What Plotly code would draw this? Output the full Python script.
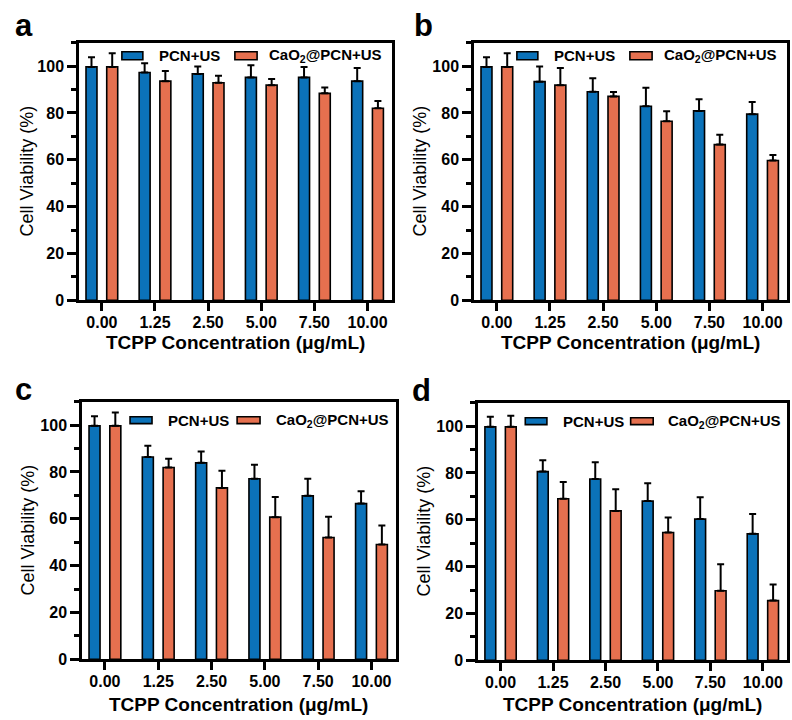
import plotly.graph_objects as go

# ---------------- data ----------------
categories = ["0.00", "1.25", "2.50", "5.00", "7.50", "10.00"]
series_names = ["PCN+US", "CaO<sub>2</sub>@PCN+US"]
x_title = "TCPP Concentration (μg/mL)"
y_title = "Cell Viability (%)"

a_pcn = [99.7, 97.3, 96.7, 95.2, 95.2, 93.6]
a_pcn_err = [4.1, 4.0, 3.2, 5.2, 4.5, 5.6]
a_cao = [99.7, 93.6, 92.9, 91.9, 88.4, 82.0]
a_cao_err = [5.8, 4.3, 3.0, 2.6, 2.5, 3.1]

b_pcn = [99.7, 93.4, 89.1, 82.9, 80.9, 79.5]
b_pcn_err = [4.1, 6.5, 5.7, 7.9, 5.0, 5.2]
b_cao = [99.7, 91.9, 87.1, 76.5, 66.5, 59.7]
b_cao_err = [5.8, 7.3, 1.9, 4.3, 4.2, 2.4]

c_pcn = [99.7, 86.4, 83.9, 77.1, 69.8, 66.5]
c_pcn_err = [4.1, 4.8, 4.9, 6.0, 7.3, 5.3]
c_cao = [99.7, 81.9, 73.2, 60.7, 52.0, 49.0]
c_cao_err = [5.7, 3.7, 7.3, 8.6, 8.9, 8.1]

d_pcn = [99.7, 80.6, 77.4, 68.0, 60.3, 54.0]
d_pcn_err = [4.3, 4.8, 7.2, 7.6, 9.3, 8.5]
d_cao = [99.7, 69.0, 63.8, 54.6, 29.7, 25.5]
d_cao_err = [4.7, 7.2, 9.2, 6.4, 11.3, 6.9]

y_ticks = [0, 20, 40, 60, 80, 100]
panel_letters = ["a", "b", "c", "d"]

# ---------------- style ----------------
BLUE = "#0B72B9"
ORANGE = "#E6704F"
FONT = "Liberation Sans, Arial, sans-serif"
W, H = 792, 720
K = 1.007  # small vertical correction factor

# plot frames in pixels (left, right, top, bottom)
frames = [
    (79, 392, 43 * K, 302 * K),
    (474, 787, 43 * K, 302 * K),
    (82, 396, 404 * K, 663 * K),
    (478, 787, 405 * K, 664 * K),
]
xtitle_y = [344 * K, 344 * K, 708 * K, 708 * K]   # pixel centre of x-axis titles
ytitle_x = [27, 420, 28, 424]                     # pixel centre of y-axis titles
letter_pos = [(13, 36 * K), (412, 36 * K), (13, 402 * K), (410, 403 * K)]
panels = [
    (a_pcn, a_pcn_err, a_cao, a_cao_err),
    (b_pcn, b_pcn_err, b_cao, b_cao_err),
    (c_pcn, c_pcn_err, c_cao, c_cao_err),
    (d_pcn, d_pcn_err, d_cao, d_cao_err),
]
# legend layout in axis-domain fractions per row
legend_top = dict(sw1=(0.137, 0.204), tx1=0.248, sw2=(0.498, 0.569), tx2=0.6, y=(0.934, 0.965), ty=0.95)
legend_bot = dict(sw1=(0.153, 0.223), tx1=0.268, sw2=(0.494, 0.567), tx2=0.61, y=(0.915, 0.942), ty=0.928)

fig = go.Figure()
shapes = []
annotations = []

for i, (pcn, pcn_err, cao, cao_err) in enumerate(panels):
    n = i + 1
    xa = "x" if n == 1 else f"x{n}"
    ya = "y" if n == 1 else f"y{n}"
    for vals, errs, color, name in [(pcn, pcn_err, BLUE, series_names[0]),
                                    (cao, cao_err, ORANGE, series_names[1])]:
        fig.add_trace(go.Bar(
            x=categories, y=vals, name=name, xaxis=xa, yaxis=ya,
            marker=dict(color=color, line=dict(color="black", width=1.6)),
            error_y=dict(type="data", array=errs, arrayminus=[0] * len(errs),
                         symmetric=False, color="black", thickness=2, width=3.5),
            showlegend=False,
        ))
    l, r, t, b = frames[i]
    common_axis = dict(showline=True, linecolor="black", linewidth=2.5, mirror=True,
                       ticks="outside", tickcolor="black", tickwidth=2.5,
                       showgrid=False, zeroline=False,
                       tickfont=dict(family=FONT, size=16, color="black", weight="bold"))
    fig.update_layout(**{
        ("xaxis" if n == 1 else f"xaxis{n}"): dict(
            domain=[l / W, r / W], anchor=ya, type="category",
            range=[-0.43, 5.46], ticklen=8, ticklabelstandoff=-2, **common_axis),
        ("yaxis" if n == 1 else f"yaxis{n}"): dict(
            domain=[1 - b / H, 1 - t / H], anchor=xa,
            range=[0, 110], tickvals=y_ticks, ticklen=9,
            minor=dict(dtick=10, tick0=0, ticks="outside", ticklen=5, tickwidth=2.5, tickcolor="black"),
            **common_axis),
    })
    # axis titles
    annotations.append(dict(xref="paper", yref="paper", x=(l + r) / 2 / W, y=1 - xtitle_y[i] / H,
                            text=x_title, showarrow=False, xanchor="center", yanchor="middle",
                            font=dict(family=FONT, size=19, color="black", weight="bold")))
    annotations.append(dict(xref="paper", yref="paper", x=ytitle_x[i] / W, y=1 - (t + b) / 2 / H,
                            text=y_title, showarrow=False, textangle=-90,
                            xanchor="center", yanchor="middle",
                            font=dict(family=FONT, size=18, color="black")))
    lg = legend_top if i < 2 else legend_bot
    xd, yd = f"{xa} domain", f"{ya} domain"
    for sw, col in [(lg["sw1"], BLUE), (lg["sw2"], ORANGE)]:
        shapes.append(dict(type="rect", xref=xd, yref=yd, x0=sw[0], x1=sw[1],
                           y0=lg["y"][0], y1=lg["y"][1], fillcolor=col,
                           line=dict(color="black", width=1.6)))
    for tx, name in [(lg["tx1"], series_names[0]), (lg["tx2"], series_names[1])]:
        annotations.append(dict(xref=xd, yref=yd, x=tx, y=lg["ty"], text=name,
                                showarrow=False, xanchor="left", yanchor="middle",
                                font=dict(family=FONT, size=15, color="black", weight="bold")))
    lx, ly = letter_pos[i]
    annotations.append(dict(xref="paper", yref="paper", x=lx / W, y=1 - (ly - 10) / H,
                            text=panel_letters[i], showarrow=False, xanchor="left", yanchor="middle",
                            font=dict(family=FONT, size=31, color="black", weight="bold")))

fig.update_layout(
    width=W, height=H, margin=dict(l=0, r=0, t=0, b=0),
    paper_bgcolor="white", plot_bgcolor="white",
    barmode="group", bargap=0.22, bargroupgap=0.47,
    shapes=shapes, annotations=annotations,
    font=dict(family=FONT, color="black"),
)
fig.write_html(
    "out.html",
    config={"displayModeBar": False},
    post_script=(
        "document.documentElement.style.margin='0';"
        "document.documentElement.style.overflow='hidden';"
        "document.body.style.margin='0';"
        "document.body.style.overflow='hidden';"
    ),
)
